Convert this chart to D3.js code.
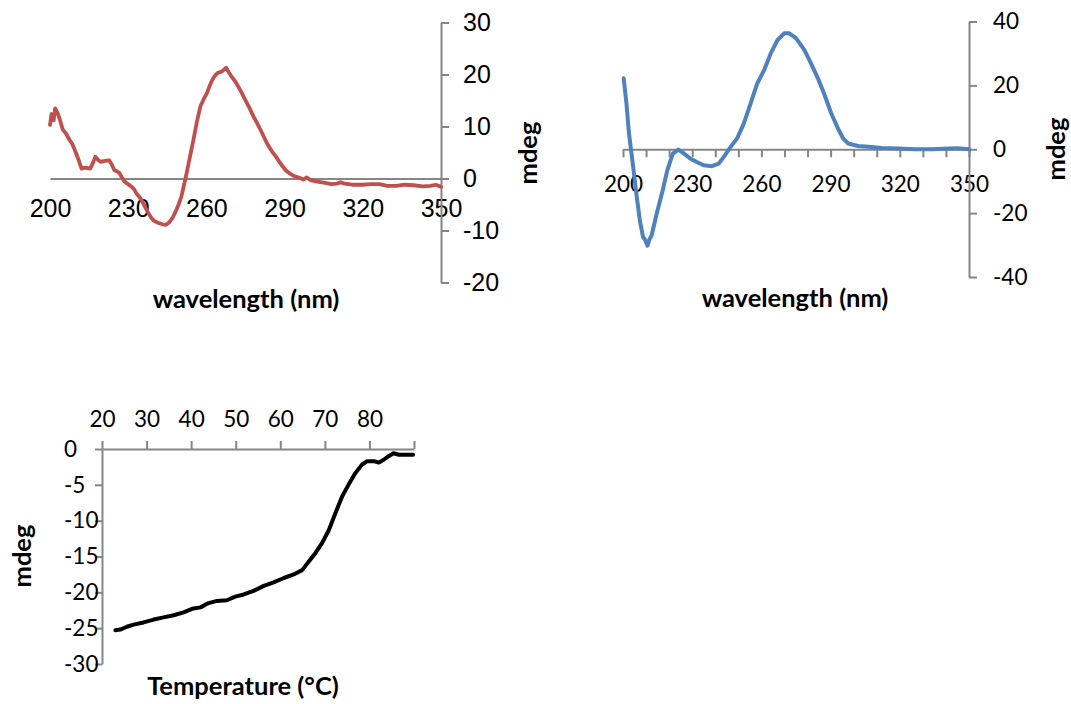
<!DOCTYPE html>
<html lang="en">
<head>
  <meta charset="UTF-8">
  <title>CD spectra and melting curve</title>
  <style>
    body { margin: 0; background: #fff; }
    .axis path, .axis line { stroke: #868686; stroke-width: 2; }
    .calibri text { font-family: Lato, "Open Sans", sans-serif; font-size: 22.5px; fill: #000; }
    .arial text { font-family: "Liberation Sans", Arial, sans-serif; font-size: 25px; fill: #000; }
    .title { font-family: Lato, "Open Sans", sans-serif; font-weight: bold; font-size: 25.5px; fill: #000; }
  </style>
</head>
<body>
  <script src="https://d3js.org/d3.v7.min.js"></script>
  <svg id="chart" width="1071" height="704"></svg>
  <script>
    // red spectrum (top left)
    const redNm = [200, 200.6, 201.4, 202, 202.9, 203.8, 204.9, 206.2, 207.5, 208.6, 209.5, 210.8, 212.1, 213.5, 215.4, 216.5, 217.4, 218.4,
      219.4, 221, 222.7, 223.8, 224.7, 225.7, 226.7, 227.6, 228.6, 230, 231.3, 232.3, 233.2, 234.2, 235.2, 236.6, 237.9, 238.9, 239.8,
      241.4, 243.1, 244.5, 245.8, 247.1, 248.4, 249.4, 250.4, 251.4, 252.4, 253.7, 255, 256.3, 257.7, 259, 260.3, 261.3, 262.3,
      263.3, 264.3, 266, 267.6, 268.5, 269.5, 270.9, 272.2, 273.5, 274.8, 276.5, 278.1, 279.8, 281.4, 282.7, 284, 285.3, 286.7,
      288, 289.3, 290.6, 291.9, 293.2, 294.6, 295.9, 297.2, 298.5, 299.9, 302.5, 305.1, 308, 310, 311.5, 313, 316, 319.7, 323,
      326.3, 329.5, 332.9, 336, 339.5, 343, 346, 348, 350];
    const redMdeg = [10.3, 12.4, 11.2, 13.5, 12.6, 11.3, 9.4, 8.6, 7.4, 6.6, 5.5, 3.8, 1.9, 2.1, 1.9, 3, 4.2, 3.6,
      3.2, 3.4, 3.5, 2.6, 1.6, 1.4, 1, 0.2, -0.6, -1.1, -1.6, -2.1, -2.9, -3.5, -4.2, -5.6, -6.8, -7.6, -8.1,
      -8.5, -8.8, -8.9, -8.4, -7.5, -6.1, -4.9, -3.5, -1.3, 1, 4.2, 7.4, 10.8, 13.9, 15.3, 16.5, 17.9, 19,
      19.8, 20.3, 20.6, 21.3, 20.5, 19.7, 18.8, 17.7, 16.5, 15.2, 13.6, 11.9, 10.3, 8.7, 7.3, 6.1, 5.1, 4.2,
      3.2, 2.3, 1.5, 1, 0.6, 0.3, 0.1, -0.2, 0.2, -0.3, -0.6, -0.8, -1.1, -1, -0.7, -1, -1.2, -1.2, -1.1,
      -1.1, -1.4, -1.4, -1.2, -1.3, -1.5, -1.4, -1.2, -1.6];

    // blue spectrum (top right)
    const blueNm = [200.3, 201.5, 202.6, 204.4, 205.8, 207.3, 208.7, 209.7, 210.6, 211.5, 212.4, 214.6, 217.2, 219.2, 221.6, 224, 226.2,
      229.1, 232, 234.9, 238.6, 241.5, 243.7, 246.6, 249.5, 252.4, 255.3, 258.2, 261.2, 264.1, 267, 269.9, 272.1, 275, 278.6,
      281.5, 284.5, 287.4, 290.3, 293.2, 295.4, 297.6, 301.9, 307.8, 312.1, 319.4, 326.7, 334, 341.3, 345, 350];
    const blueMdeg = [22.2, 14.3, 4.9, -5.5, -13.9, -22.3, -27.5, -28.5, -30.2, -28.2, -27, -20.2, -12.9, -6.6, -1.4, -0.1, -1.2,
      -2.9, -4, -5, -5.3, -4.5, -2.4, 0.7, 3.4, 8.1, 14.3, 20.6, 24.8, 30.1, 34.2, 36.3, 36.3, 34.8, 31.1,
      26.9, 22.2, 17, 11.2, 6.5, 3.4, 1.8, 1, 0.7, 0.4, 0.2, 0, 0, 0.2, 0.3, 0];

    // melting curve (bottom left)
    const tempC = [23, 24.1, 25.6, 27.1, 29.3, 31.6, 33.8, 36.1, 38.3, 40.2, 42.1, 43.9, 45.8, 48, 49.9, 51.8, 54, 56.3, 58.5,
      60.8, 63, 64.9, 66.4, 67.9, 69.4, 70.9, 72.4, 73.9, 75.3, 76.8, 78.3, 79.5, 81, 82.1, 83.2, 84.3, 85.4, 86.6, 88.1, 89.8];
    const tempMdeg = [-25.3, -25.2, -24.8, -24.5, -24.2, -23.8, -23.5, -23.2, -22.8, -22.3, -22.1, -21.5, -21.2, -21.1, -20.6, -20.3,
      -19.8, -19.1, -18.6, -18, -17.5, -16.9, -15.7, -14.5, -13.1, -11.3, -8.9, -6.6, -5, -3.4, -2.2, -1.7, -1.7, -1.9, -1.5,
      -1, -0.6, -0.8, -0.8, -0.8];

    // tick labels
    const nmLabels = [200, 230, 260, 290, 320, 350];
    const redTicks = [-20, -10, 0, 10, 20, 30];
    const blueTicks = [-40, -20, 0, 20, 40];
    const tempXLabels = [20, 30, 40, 50, 60, 70, 80];
    const tempYTicks = [-30, -25, -20, -15, -10, -5, 0];

    const svg = d3.select("svg#chart");
    svg.append("rect").attr("width", 1071).attr("height", 704).attr("fill", "#fff");

    // plain hyphen for negatives, like the original
    const fmt = d => String(d);

    function drawLine(xs, ys, xv, yv, color, w) {
      svg.append("path")
        .datum(xv.map((d, i) => [d, yv[i]]))
        .attr("fill", "none")
        .attr("stroke", color)
        .attr("stroke-width", w)
        .attr("stroke-linejoin", "round")
        .attr("stroke-linecap", "round")
        .attr("d", d3.line().x(d => xs(d[0])).y(d => ys(d[1])));
    }

    // ---- chart 1 (red) ----
    const x1 = d3.scaleLinear().domain([200, 350]).range([50, 441]);
    const y1 = d3.scaleLinear().domain([-20, 30]).range([282.5, 22.5]);

    svg.append("g").attr("class", "axis arial")
      .attr("transform", "translate(0," + y1(0) + ")")
      .call(d3.axisBottom(x1).tickValues(nmLabels).tickSize(0).tickPadding(21).tickFormat(fmt));

    svg.append("g").attr("class", "axis arial")
      .attr("transform", "translate(" + x1(350) + ",0)")
      .call(d3.axisRight(y1).tickValues(redTicks).tickSize(8).tickSizeOuter(0).tickPadding(14).tickFormat(fmt));

    drawLine(x1, y1, redNm, redMdeg, "#C0504D", 3.8);

    svg.append("text").attr("class", "title").attr("text-anchor", "middle")
      .attr("x", 246).attr("y", 308).text("wavelength (nm)");
    svg.append("text").attr("class", "title").attr("text-anchor", "middle")
      .attr("transform", "translate(537,153) rotate(-90)").text("mdeg");

    // ---- chart 2 (blue) ----
    const x2 = d3.scaleLinear().domain([200, 350]).range([623, 969]);
    const y2 = d3.scaleLinear().domain([-40, 40]).range([277, 21.5]);

    svg.append("g").attr("class", "axis calibri")
      .attr("transform", "translate(0," + y2(0) + ")")
      .call(d3.axisBottom(x2).tickValues(d3.range(200, 351, 10)).tickSize(8).tickSizeOuter(0).tickPadding(19)
        .tickFormat(d => nmLabels.includes(d) ? fmt(d) : ""));

    svg.append("g").attr("class", "axis calibri")
      .attr("transform", "translate(" + x2(350) + ",0)")
      .call(d3.axisRight(y2).tickValues(blueTicks).tickSize(8).tickSizeOuter(0).tickPadding(16).tickFormat(fmt));

    drawLine(x2, y2, blueNm, blueMdeg, "#4F81BD", 4);

    svg.append("text").attr("class", "title").attr("text-anchor", "middle")
      .attr("x", 795).attr("y", 307).text("wavelength (nm)");
    svg.append("text").attr("class", "title").attr("text-anchor", "middle")
      .attr("transform", "translate(1065,149) rotate(-90)").text("mdeg");

    // ---- chart 3 (black) ----
    const x3 = d3.scaleLinear().domain([20, 90]).range([102, 414]);
    const y3 = d3.scaleLinear().domain([-30, 0]).range([664, 449]);

    svg.append("g").attr("class", "axis calibri")
      .attr("transform", "translate(0," + y3(0) + ")")
      .call(d3.axisTop(x3).tickValues(d3.range(20, 91, 10)).tickSize(8).tickSizeOuter(0).tickPadding(14)
        .tickFormat(d => tempXLabels.includes(d) ? fmt(d) : ""));

    const yAx3 = svg.append("g").attr("class", "axis calibri")
      .attr("transform", "translate(" + x3(20) + ",0)")
      .call(d3.axisLeft(y3).tickValues(tempYTicks).tickSize(7).tickSizeOuter(0).tickPadding(9).tickFormat(fmt));
    // labels sit flush left, as in the source chart
    yAx3.selectAll(".tick text").attr("text-anchor", "start").attr("x", -38);

    drawLine(x3, y3, tempC, tempMdeg, "#000", 4);

    svg.append("text").attr("class", "title").attr("text-anchor", "middle")
      .attr("x", 243).attr("y", 695).text("Temperature (°C)");
    svg.append("text").attr("class", "title").attr("text-anchor", "middle")
      .attr("transform", "translate(31,556) rotate(-90)").text("mdeg");
  </script>
</body>
</html>
